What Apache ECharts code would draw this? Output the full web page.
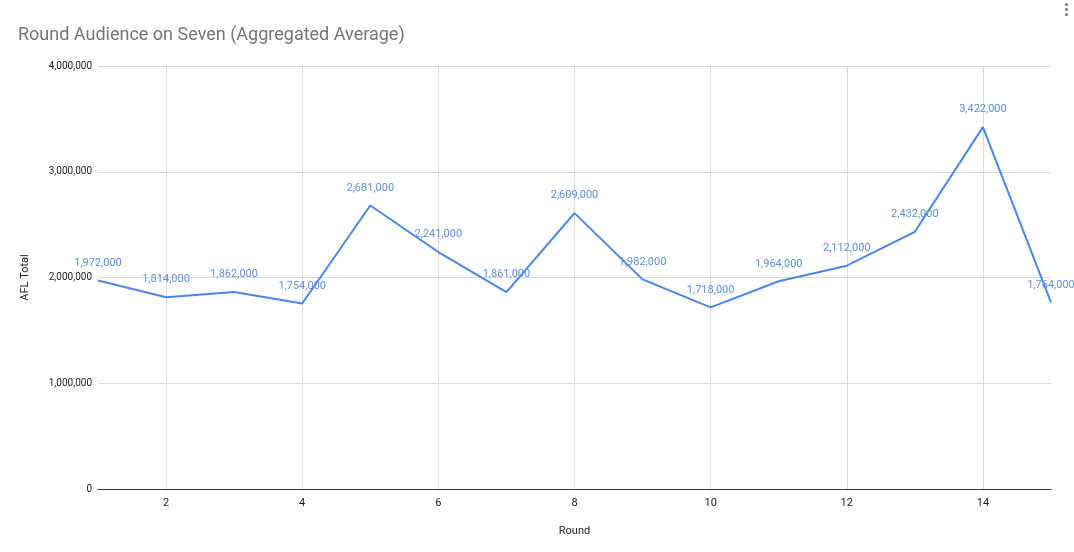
<!DOCTYPE html>
<html>
<head>
<meta charset="utf-8">
<script src="https://cdn.jsdelivr.net/npm/echarts@6/dist/echarts.min.js"></script>
<style>
  html, body { margin: 0; padding: 0; background: #fff; }
  #chart { width: 1074px; height: 552px; }
</style>
</head>
<body>
<div id="chart"></div>
<script>
// 每轮观众人数
let rounds = [1, 2, 3, 4, 5, 6, 7, 8, 9, 10, 11, 12, 13, 14, 15];
let audience = [1972000, 1814000, 1862000, 1754000, 2681000, 2241000, 1861000, 2609000,
    1982000, 1718000, 1964000, 2112000, 2432000, 3422000, 1764000];

let points = rounds.map(function (r, i) { return [r, audience[i]]; });

let option = {
    backgroundColor: '#fff',
    textStyle: { fontFamily: 'Roboto, Arial, sans-serif' },
    title: {
        text: 'Round Audience on Seven (Aggregated Average)',
        left: 13,
        top: 21,
        textStyle: {
            color: '#757575',
            fontSize: 18,
            fontWeight: 'normal',
            fontFamily: 'Roboto, Arial, sans-serif'
        }
    },
    grid: {
        left: 98,
        right: 23,
        top: 66,
        bottom: 63,
        containLabel: false
    },
    xAxis: {
        type: 'value',
        min: 1,
        max: 15,
        interval: 1,
        name: 'Round',
        nameLocation: 'middle',
        nameGap: 37,
        nameTextStyle: { color: '#222', fontSize: 11 },
        axisLine: { show: true, lineStyle: { color: '#333', width: 1 } },
        axisTick: { show: false },
        axisLabel: {
            color: '#222',
            fontSize: 11,
            margin: 9,
            formatter: function (v) { return v % 2 === 0 && v < 15 ? String(v) : ''; }
        },
        splitLine: {
            show: true,
            // 只显示偶数轮的竖线
            lineStyle: { color: ['rgba(0,0,0,0)', '#dadada'], width: 1 }
        }
    },
    yAxis: {
        type: 'value',
        min: 0,
        max: 4000000,
        interval: 1000000,
        name: 'AFL Total',
        nameLocation: 'middle',
        nameGap: 67,
        nameRotate: 90,
        nameTextStyle: { color: '#222', fontSize: 11 },
        axisLine: { show: false },
        axisTick: { show: false },
        axisLabel: {
            color: '#222',
            fontSize: 10,
            margin: 6,
            formatter: function (v) { return v.toLocaleString('en-US'); }
        },
        splitLine: { lineStyle: { color: '#dadada', width: 1 } }
    },
    series: [{
        name: 'AFL Total',
        type: 'line',
        data: points,
        showSymbol: true,
        symbol: 'circle',
        symbolSize: 0,
        clip: false,
        lineStyle: { color: '#4a86e8', width: 2 },
        itemStyle: { color: '#4a86e8' },
        label: {
            show: true,
            position: 'top',
            distance: 12,
            color: '#5b8fe6',
            fontSize: 11,
            formatter: function (p) { return p.value[1].toLocaleString('en-US'); }
        },
        labelLayout: { hideOverlap: false }
    }],
    graphic: [
        { type: 'circle', right: 6, top: 3, shape: { r: 1.5 }, style: { fill: '#757575' } },
        { type: 'circle', right: 6, top: 8, shape: { r: 1.5 }, style: { fill: '#757575' } },
        { type: 'circle', right: 6, top: 13, shape: { r: 1.5 }, style: { fill: '#757575' } }
    ]
};

let myChart = echarts.init(document.getElementById('chart'));
myChart.setOption(option);
</script>
</body>
</html>
